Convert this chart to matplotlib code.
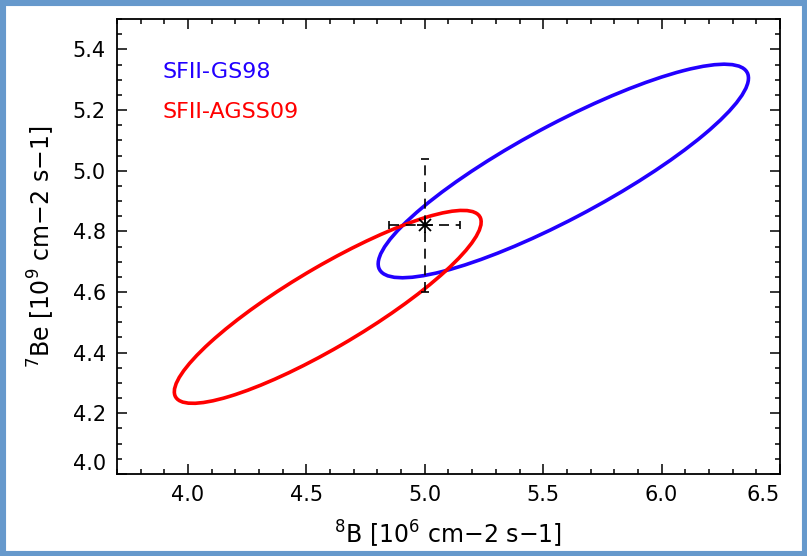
import numpy as np
import matplotlib
matplotlib.use("Agg")
import matplotlib.pyplot as plt
from matplotlib.patches import Ellipse, Rectangle
from matplotlib.ticker import MultipleLocator

plt.rcParams["mathtext.default"] = "regular"

# Contours: centre (8B, 7Be), half-extent along x and y, correlation
names = ["SFII-GS98", "SFII-AGSS09"]
colors = ["#2200ff", "#ff0000"]
cx = [5.585, 4.590]
cy = [4.999, 4.551]
half_x = [0.782, 0.648]
half_y = [0.352, 0.318]
rho = [0.87, 0.88]

# Measured point
b8 = 5.00
be7 = 4.82
b8_err = 0.15
be7_err = 0.22

xticks = [4.0, 4.5, 5.0, 5.5, 6.0, 6.5]
yticks = [4.0, 4.2, 4.4, 4.6, 4.8, 5.0, 5.2, 5.4]

fig = plt.figure(figsize=(8.07, 5.56), dpi=100)
ax = fig.add_axes([0.145, 0.1475, 0.8215, 0.8183])

for i in range(len(names)):
    cov = np.array([[half_x[i] ** 2, rho[i] * half_x[i] * half_y[i]],
                    [rho[i] * half_x[i] * half_y[i], half_y[i] ** 2]])
    vals, vecs = np.linalg.eigh(cov)
    ang = np.degrees(np.arctan2(vecs[1, 1], vecs[0, 1]))
    e = Ellipse((cx[i], cy[i]), 2 * np.sqrt(vals[1]), 2 * np.sqrt(vals[0]),
                angle=ang, fill=False, edgecolor=colors[i], linewidth=2.6)
    ax.add_patch(e)

eb = ax.errorbar(b8, be7, xerr=b8_err, yerr=be7_err, fmt="none", ecolor="black",
                 elinewidth=1.2, capsize=3, capthick=1.2)
eb[2][0].set_linestyle((0, (6, 4)))
eb[2][1].set_linestyle((0, (6, 4)))
ax.plot(b8, be7, marker="+", color="black", markersize=12, mew=1.3)
ax.plot(b8, be7, marker="x", color="black", markersize=9, mew=1.3)

ax.text(0.069, 0.884, names[0], color=colors[0], fontsize=16,
        transform=ax.transAxes, va="center")
ax.text(0.069, 0.796, names[1], color=colors[1], fontsize=16,
        transform=ax.transAxes, va="center")

ax.set_xlim(3.7, 6.5)
ax.set_ylim(4.0, 5.5)
ax.set_xticks(xticks)
ax.set_yticks(yticks)
ax.set_xticklabels(["%.1f" % v for v in xticks])
ax.set_yticklabels(["%.1f" % v for v in yticks])
ax.xaxis.set_minor_locator(MultipleLocator(0.1))
ax.yaxis.set_minor_locator(MultipleLocator(0.05))
ax.tick_params(which="both", direction="in", top=True, right=True,
               labelsize=15, width=1.1)
ax.tick_params(which="major", length=7, pad=8)
ax.tick_params(which="minor", length=3.5)
ax.get_xticklabels()[-1].set_ha("right")
ax.get_yticklabels()[0].set_va("bottom")
for s in ax.spines.values():
    s.set_linewidth(1.3)

ax.set_xlabel(r"$^{8}$B $[10^{6}$ cm$-$2 s$-$1$]$", fontsize=17, labelpad=10)
ax.set_ylabel(r"$^{7}$Be $[10^{9}$ cm$-$2 s$-$1$]$", fontsize=17, labelpad=11)

fig.patches.append(Rectangle((0, 0), 1, 1, transform=fig.transFigure, fill=False,
                             edgecolor="#6699cc", linewidth=8, zorder=10))

fig.savefig("out.png", dpi=100)
